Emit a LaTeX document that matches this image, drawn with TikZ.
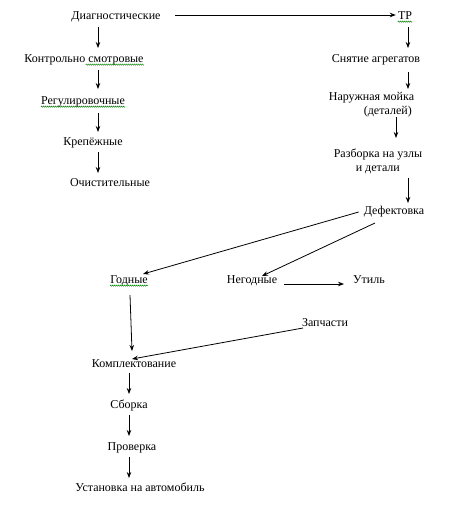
\documentclass[tikz,border=0pt]{standalone}
\usepackage{fontspec}
\setmainfont{Liberation Serif}
\usetikzlibrary{arrows.meta,decorations.pathmorphing}
\begin{document}
\begin{tikzpicture}[x=1pt,y=-1pt,
  lbl/.style={inner sep=0pt,text height=8pt,text depth=2.7pt,font=\fontsize{12}{14}\selectfont},
  arr/.style={draw=black,line width=0.8pt,-{Stealth[length=6pt,width=4.5pt]}},
  squig/.style={draw=green!50!black,line width=0.4pt,decorate,decoration={zigzag,amplitude=0.7pt,segment length=2pt}}]
\useasboundingbox (0,0) rectangle (450,509);
\fill[white] (0,0) rectangle (450,509);
% left column
\node[lbl] (diag) at (116,17) {Диагностические};
\node[lbl] (kontr) at (84,60) {Контрольно смотровые};
\node[lbl] (reg) at (83,102) {Регулировочные};
\node[lbl] (krep) at (93,143) {Крепёжные};
\node[lbl] (ochist) at (110,184) {Очистительные};
% right column
\node[lbl] (tr) at (405,17) {ТР};
\node[lbl] (snyat) at (376,60) {Снятие агрегатов};
\node[lbl,align=left,text height=,text depth=] (moika) at (371.5,105) {Наружная мойка\\\hspace*{35pt}(деталей)};
\node[lbl,align=left,text height=,text depth=] (razb) at (378,161) {Разборка на узлы\\\hspace*{22pt}и детали};
\node[lbl] (defekt) at (394,212) {Дефектовка};
% middle
\node[lbl] (godn) at (129,281) {Годные};
\node[lbl] (negodn) at (252,281) {Негодные};
\node[lbl] (util) at (369,281) {Утиль};
\node[lbl] (zap) at (325,324) {Запчасти};
% bottom column
\node[lbl] (kompl) at (134,365) {Комплектование};
\node[lbl] (sborka) at (129,406) {Сборка};
\node[lbl] (prov) at (132,448) {Проверка};
\node[lbl] (ustan) at (140,489) {Установка на автомобиль};
% column coordinates
\coordinate (cL) at (98,0);
\coordinate (cR) at (408,0);
\coordinate (cM) at (396,0);
\coordinate (cB) at (129,0);
% arrows
\draw[arr] ([xshift=14pt,yshift=2pt]diag.east) -- ([xshift=-2pt,yshift=2pt]tr.west);
\draw[arr,shorten <=10pt,shorten >=12pt] (diag.center -| cL) -- (kontr.center -| cL);
\draw[arr,shorten <=10pt,shorten >=13pt] (kontr.center -| cL) -- (reg.center -| cL);
\draw[arr,shorten <=11pt,shorten >=11pt] (reg.center -| cL) -- (krep.center -| cL);
\draw[arr,shorten <=9pt,shorten >=11pt] (krep.center -| cL) -- (ochist.center -| cL);
\draw[arr,shorten <=10pt,shorten >=12pt] (tr.center -| cR) -- (snyat.center -| cR);
\draw[arr,shorten <=12pt,shorten >=13pt] (snyat.center -| cR) -- ([yshift=3pt]moika.center -| cR);
\draw[arr,shorten <=15pt,shorten >=20pt] ([yshift=3pt]moika.center -| cM) -- ([yshift=3pt]razb.center -| cM);
\draw[arr,shorten <=20pt,shorten >=9pt] ([yshift=3pt]razb.center -| cR) -- (defekt.center -| cR);
\draw[arr] ([xshift=-5pt]defekt.west) -- ([xshift=14pt,yshift=7pt]godn.center);
\draw[arr] ([xshift=-19pt,yshift=-11pt]defekt.center) -- ([xshift=10pt,yshift=5pt]negodn.center);
\draw[arr] ([xshift=7pt,yshift=-3pt]negodn.east) -- ([xshift=-9pt,yshift=-3pt]util.west);
\draw[arr] ([xshift=1pt,yshift=-14pt]godn.center) -- ([xshift=-2pt,yshift=14pt]kompl.center);
\draw[arr] ([xshift=-22pt,yshift=-4pt]zap.center) -- ([xshift=-2pt,yshift=6pt]kompl.center);
\draw[arr,shorten <=8pt,shorten >=12pt] (kompl.center -| cB) -- (sborka.center -| cB);
\draw[arr,shorten <=9pt,shorten >=12pt] (sborka.center -| cB) -- (prov.center -| cB);
\draw[arr,shorten <=9pt,shorten >=11pt] (prov.center -| cB) -- (ustan.center -| cB);
% spell-check squiggles
\draw[squig] ([xshift=-58pt,yshift=-2pt]kontr.base east) -- ([yshift=-2pt]kontr.base east);
\draw[squig] ([yshift=-2pt]reg.base west) -- ([yshift=-2pt]reg.base east);
\draw[squig] ([yshift=-2pt]tr.base west) -- ([yshift=-2pt]tr.base east);
\draw[squig] ([yshift=-2pt]godn.base west) -- ([yshift=-2pt]godn.base east);
\end{tikzpicture}
\end{document}
